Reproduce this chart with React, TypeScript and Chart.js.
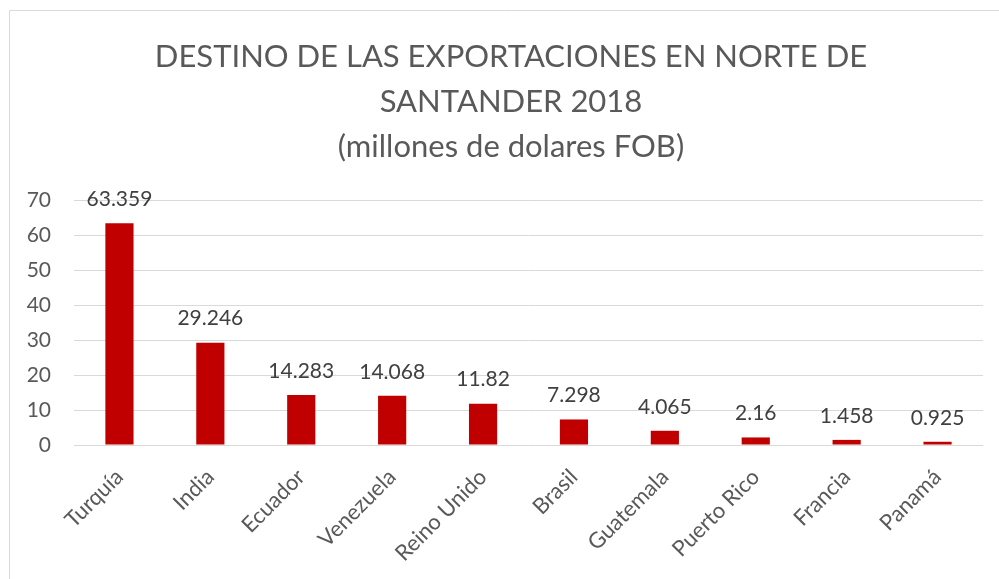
import React, { useEffect, useRef } from "react";
import { Chart, registerables } from "chart.js";

Chart.register(...registerables);

const categories = ["Turquía", "India", "Ecuador", "Venezuela", "Reino Unido", "Brasil", "Guatemala", "Puerto Rico", "Francia", "Panamá"];
const values = [63.359, 29.246, 14.283, 14.068, 11.82, 7.298, 4.065, 2.16, 1.458, 0.925];
const valueLabels = ["63.359", "29.246", "14.283", "14.068", "11.82", "7.298", "4.065", "2.16", "1.458", "0.925"];
const titleLines = ["DESTINO DE LAS EXPORTACIONES EN NORTE DE", "SANTANDER 2018", "(millones de dolares FOB)"];

const FONT = "Lato";
const TEXT = "#595959";

const framePlugin = {
  id: "frame",
  beforeDraw(chart: any) {
    const ctx = chart.ctx;
    ctx.save();
    ctx.fillStyle = "#ffffff";
    ctx.fillRect(0, 0, chart.width, chart.height);
    ctx.strokeStyle = "#d9d9d9";
    ctx.lineWidth = 1;
    ctx.beginPath();
    ctx.moveTo(9.5, chart.height + 5);
    ctx.lineTo(9.5, 10.5);
    ctx.lineTo(chart.width + 5, 10.5);
    ctx.stroke();
    // title
    ctx.fillStyle = TEXT;
    ctx.font = `31px ${FONT}`;
    ctx.textAlign = "center";
    ctx.textBaseline = "alphabetic";
    const baselines = [67, 112, 157];
    titleLines.forEach((t, i) => ctx.fillText(t, 511, baselines[i]));
    ctx.restore();
  },
  afterDatasetsDraw(chart: any) {
    const ctx = chart.ctx;
    const meta = chart.getDatasetMeta(0);
    ctx.save();
    ctx.fillStyle = "#404040";
    ctx.font = `21px ${FONT}`;
    ctx.textAlign = "center";
    ctx.textBaseline = "middle";
    meta.data.forEach((bar: any, i: number) => {
      ctx.fillText(valueLabels[i], bar.x, bar.y - 24);
    });
    ctx.restore();
  },
};

export default function App() {
  const ref = useRef<HTMLCanvasElement>(null);
  useEffect(() => {
    document.body.style.margin = "0";
    const chart = new Chart(ref.current!, {
      type: "bar",
      data: {
        labels: categories,
        datasets: [
          {
            data: values,
            backgroundColor: "#C00000",
            barPercentage: 0.31,
            categoryPercentage: 1,
          },
        ],
      },
      options: {
        animation: false,
        responsive: false,
        layout: { padding: { top: 200, left: 10, right: 16, bottom: 0 } },
        plugins: { legend: { display: false }, title: { display: false }, tooltip: { enabled: false } },
        scales: {
          x: {
            grid: { display: false, drawTicks: false },
            border: { display: false },
            ticks: {
              color: TEXT,
              font: { family: FONT, size: 22 },
              maxRotation: 45,
              minRotation: 45,
              padding: 19,
              autoSkip: false,
            },
            afterFit(scale: any) {
              scale.height = 579 - 445;
            },
          },
          y: {
            min: 0,
            max: 70,
            grid: { color: "#d9d9d9", drawTicks: false },
            border: { display: false },
            ticks: {
              stepSize: 10,
              color: TEXT,
              font: { family: FONT, size: 21 },
              padding: 23,
            },
            afterFit(scale: any) {
              scale.width = 64;
            },
          },
        },
      },
      plugins: [framePlugin],
    });
    return () => chart.destroy();
  }, []);
  return <canvas ref={ref} width={999} height={579} style={{ display: "block" }} />;
}
